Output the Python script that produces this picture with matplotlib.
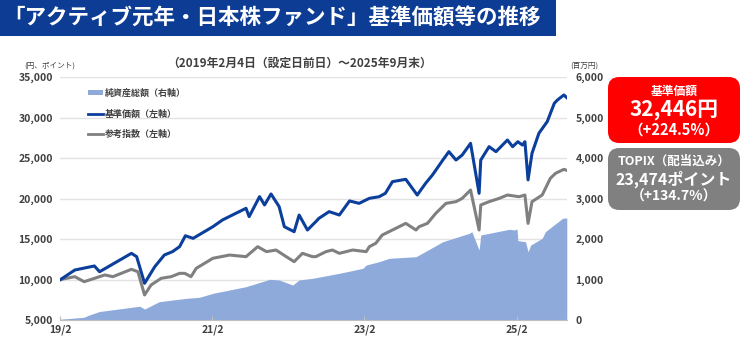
import matplotlib
matplotlib.use("Agg")
import matplotlib.pyplot as plt
from matplotlib.patches import FancyBboxPatch, Rectangle, Patch
from matplotlib.lines import Line2D
import pandas as pd

plt.rcParams['font.family'] = ['Noto Sans CJK JP', 'DejaVu Sans']

# ---- data ----
nav_dates = ["2019-02-04", "2019-04-13", "2019-07-16", "2019-08-10", "2020-01-10", "2020-02-04",
             "2020-03-13", "2020-05-01", "2020-06-16", "2020-07-25", "2020-08-28", "2020-09-25",
             "2020-11-01", "2021-02-04", "2021-03-22", "2021-05-25", "2021-07-13", "2021-07-28",
             "2021-09-16", "2021-10-10", "2021-11-10", "2021-12-19", "2022-01-13", "2022-03-01",
             "2022-03-25", "2022-05-04", "2022-06-13", "2022-06-28", "2022-08-16", "2022-10-04",
             "2022-11-22", "2023-01-07", "2023-02-25", "2023-04-13", "2023-05-13", "2023-06-16",
             "2023-08-19", "2023-10-13", "2023-11-22", "2023-12-25", "2024-02-13", "2024-03-13",
             "2024-04-16", "2024-05-16", "2024-06-25", "2024-08-05", "2024-08-13", "2024-09-22",
             "2024-10-25", "2024-12-19", "2025-01-13", "2025-02-07", "2025-03-01", "2025-03-13",
             "2025-03-28", "2025-04-16", "2025-05-19", "2025-06-28", "2025-08-01", "2025-08-16",
             "2025-09-16", "2025-09-30"]
nav_values = [10000, 11170, 11670, 10960, 13230, 12820,
              9530, 11580, 13025, 13440, 14050, 15400,
              15080, 16520, 17350, 18170, 18790, 17760,
              20230, 19200, 20560, 19000, 16520, 15900,
              17960, 16110, 17140, 17550, 18380, 17960,
              19700, 19400, 20020, 20220, 20640, 22080,
              22370, 20430, 21870, 22900, 24750, 25780,
              24750, 25370, 26810, 20640, 24750, 26400,
              25780, 27220, 26400, 27010, 26600, 27010,
              22300, 25580, 28050, 29490, 31750, 32160,
              32780, 32446]

idx_dates = ["2019-02-04", "2019-04-13", "2019-05-28", "2019-09-04", "2019-10-13", "2020-01-10",
             "2020-02-10", "2020-03-13", "2020-04-13", "2020-06-01", "2020-07-19", "2020-08-28",
             "2020-09-22", "2020-10-22", "2020-11-16", "2021-02-04", "2021-04-25", "2021-07-13",
             "2021-09-07", "2021-10-19", "2021-12-04", "2022-01-22", "2022-03-01", "2022-04-10",
             "2022-05-28", "2022-06-13", "2022-08-01", "2022-09-01", "2022-10-04", "2022-12-07",
             "2023-02-10", "2023-02-25", "2023-03-28", "2023-04-28", "2023-06-16", "2023-08-19",
             "2023-10-07", "2023-10-22", "2023-12-01", "2024-01-10", "2024-02-28", "2024-04-16",
             "2024-05-16", "2024-06-25", "2024-08-05", "2024-08-13", "2024-09-22", "2024-11-10",
             "2024-12-19", "2025-02-13", "2025-03-13", "2025-03-28", "2025-04-16", "2025-06-04",
             "2025-07-13", "2025-08-07", "2025-09-16", "2025-09-30"]
idx_values = [10000, 10350, 9730, 10560, 10350, 11260,
              10960, 8090, 9320, 10150, 10350, 10760,
              10760, 10350, 11380, 12620, 13020, 12820,
              14050, 13440, 13640, 12820, 12200, 13230,
              12820, 12820, 13440, 13640, 13230, 13640,
              13440, 14050, 14470, 15490, 16110, 16930,
              16110, 16520, 16930, 18170, 19400, 19610,
              20020, 21050, 16110, 19200, 19610, 20020,
              20430, 20220, 20430, 16930, 19610, 20430,
              22490, 23110, 23600, 23474]

aum_dates = ["2019-02-04", "2019-05-28", "2019-06-16", "2019-08-10", "2020-02-19", "2020-03-13",
             "2020-05-22", "2020-09-29", "2020-12-01", "2021-02-04", "2021-07-13", "2021-11-04",
             "2021-12-19", "2022-02-22", "2022-03-25", "2022-05-28", "2022-10-04", "2023-01-25",
             "2023-02-10", "2023-04-13", "2023-06-01", "2023-10-07", "2023-10-22", "2024-02-13",
             "2024-06-19", "2024-07-01", "2024-08-05", "2024-08-13", "2024-12-28", "2025-01-22",
             "2025-02-03", "2025-02-07", "2025-03-16", "2025-03-28", "2025-04-10", "2025-06-04",
             "2025-06-19", "2025-09-10", "2025-09-30"]
aum_values = [20, 67, 114, 210, 340, 270,
              452, 535, 560, 658, 823, 1004,
              988, 864, 988, 1029, 1153, 1276,
              1358, 1440, 1523, 1563, 1605, 1933,
              2140, 2180, 1728, 2099, 2239, 2222,
              2250, 1960, 1933, 1686, 1852, 2017,
              2180, 2511, 2520]

left_ticks = [5000, 10000, 15000, 20000, 25000, 30000, 35000]
right_ticks = [0, 1000, 2000, 3000, 4000, 5000, 6000]
x_tick_dates = ["2019-02-01", "2021-02-01", "2023-02-01", "2025-02-01"]
x_tick_labels = ["19/2", "21/2", "23/2", "25/2"]

nav_d = pd.to_datetime(nav_dates)
idx_d = pd.to_datetime(idx_dates)
aum_d = pd.to_datetime(aum_dates)

C_BLUE = "#0b3f9b"
C_GRAY = "#808080"
C_AREA = "#8eaadb"
C_TXT = "#404040"

fig = plt.figure(figsize=(7.5, 3.54), dpi=100)

# title banner
fig.patches.append(Rectangle((0, 1 - 36 / 354), 556 / 750, 36 / 354, transform=fig.transFigure,
                             facecolor="#0d3c94", edgecolor="none", zorder=0))
fig.text(3 / 750, 1 - 18 / 354, "「アクティブ元年・日本株ファンド」基準価額等の推移", color="white",
         fontsize=15.5, fontweight="bold", va="center", ha="left")
fig.text(300 / 750, 1 - 63 / 354, "（2019年2月4日（設定日前日）～2025年9月末）", color=C_TXT,
         fontsize=8.5, fontweight="bold", va="center", ha="center")

ax = fig.add_axes([60 / 750, 1 - 320 / 354, 507 / 750, 243 / 354])
ax2 = ax.twinx()
ax.set_zorder(ax2.get_zorder() + 1)
ax.patch.set_visible(False)

ax2.fill_between(aum_d, aum_values, 0, color=C_AREA, linewidth=0)
ax2.set_ylim(0, 6000)
ax2.set_yticks(right_ticks)
ax2.set_yticklabels([f"{v:,}" for v in right_ticks])
ax2.set_axisbelow(True)
ax2.grid(axis="y", color="#e3e3e3", linewidth=1)

ax.plot(idx_d, idx_values, color=C_GRAY, linewidth=2.2)
ax.plot(nav_d, nav_values, color=C_BLUE, linewidth=2.2)
ax.set_ylim(5000, 35000)
ax.set_yticks(left_ticks)
ax.set_yticklabels([f"{v:,}" for v in left_ticks])
ax.set_xlim(pd.Timestamp("2019-02-01"), pd.Timestamp("2025-10-01"))
ax.set_xticks(pd.to_datetime(x_tick_dates))
ax.set_xticklabels(x_tick_labels)

for a in (ax, ax2):
    for s in a.spines.values():
        s.set_visible(False)
ax.spines["bottom"].set_visible(True)
ax.spines["bottom"].set_color("#bfbfbf")

ax.tick_params(axis="y", length=0, labelsize=7.5, labelcolor=C_TXT, pad=5)
ax2.tick_params(axis="y", length=0, labelsize=7.5, labelcolor=C_TXT, pad=6)
ax.tick_params(axis="x", length=3, color="#bfbfbf", labelsize=7.5, labelcolor=C_TXT, pad=3, direction="in")
for lab in ax.get_yticklabels() + ax2.get_yticklabels() + ax.get_xticklabels():
    lab.set_fontweight("bold")

fig.text(24 / 750, 1 - 66 / 354, "(円、ポイント)", fontsize=5.5, color=C_TXT, ha="left", va="center")
fig.text(570 / 750, 1 - 66 / 354, "(百万円)", fontsize=5.5, color=C_TXT, ha="left", va="center")

handles = [Patch(facecolor=C_AREA, edgecolor="none"),
           Line2D([], [], color=C_BLUE, linewidth=2),
           Line2D([], [], color=C_GRAY, linewidth=2)]
labels = ["純資産総額（右軸）", "基準価額（左軸）", "参考指数（左軸）"]
leg = ax.legend(handles, labels, loc="upper left", bbox_to_anchor=(0.04, 0.985), frameon=False,
                fontsize=6.5, handlelength=1.6, handletextpad=0.2, labelspacing=1.25,
                handleheight=0.5)
for t in leg.get_texts():
    t.set_color(C_TXT)
    t.set_fontweight("bold")

# right boxes
def box(x0, y0, w, h, color):
    fig.patches.append(FancyBboxPatch((x0 / 750, 1 - (y0 + h) / 354), w / 750, h / 354,
                                      boxstyle="round,pad=0,rounding_size=0.015",
                                      transform=fig.transFigure, facecolor=color,
                                      edgecolor="none", mutation_aspect=750 / 354))

box(608, 77, 132, 66, "#ff0000")
box(608, 148, 132, 62, "#808080")
cx = 674 / 750
fig.text(cx, 1 - 91 / 354, "基準価額", color="white", fontsize=8.5, fontweight="bold", ha="center", va="center")
fig.text(cx, 1 - 110 / 354, "32,446円", color="white", fontsize=15, fontweight="bold", ha="center", va="center")
fig.text(cx, 1 - 130 / 354, "（+224.5%）", color="white", fontsize=10.5, fontweight="bold", ha="center", va="center")
fig.text(cx, 1 - 161 / 354, "TOPIX（配当込み）", color="white", fontsize=9, fontweight="bold", ha="center", va="center")
fig.text(cx, 1 - 179 / 354, "23,474ポイント", color="white", fontsize=11.5, fontweight="bold", ha="center", va="center")
fig.text(cx, 1 - 197 / 354, "（+134.7%）", color="white", fontsize=10, fontweight="bold", ha="center", va="center")

fig.savefig("out.png", dpi=100)
